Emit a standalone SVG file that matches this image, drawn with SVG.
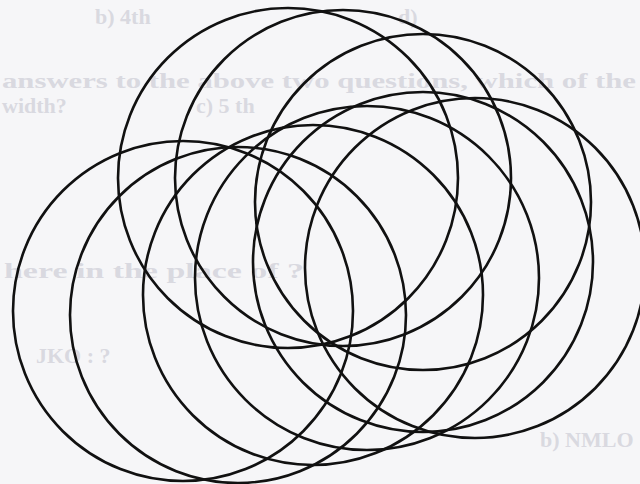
<svg xmlns="http://www.w3.org/2000/svg" width="640" height="484" viewBox="0 0 640 484">
<style>
.bg{fill:#f6f6f8}
.ghost{fill:#d9d9e0;font-family:"Liberation Serif",serif;font-weight:bold;font-size:22px}
.c{fill:none;stroke:#111;stroke-width:2.6}
</style>
<rect class="bg" x="0" y="0" width="640" height="484"/>
<g id="ghost-text">
<text class="ghost" x="95" y="24">b) 4th</text>
<text class="ghost" x="398" y="24">d)</text>
<text class="ghost" x="2" y="88" textLength="634" lengthAdjust="spacingAndGlyphs">answers to the above two questions, which of the</text>
<text class="ghost" x="2" y="113">width?</text>
<text class="ghost" x="196" y="113">c) 5 th</text>
<text class="ghost" x="4" y="278" textLength="300" lengthAdjust="spacingAndGlyphs">here in the place of ?</text>
<text class="ghost" x="36" y="363">JKO : ?</text>
<text class="ghost" x="540" y="447">b) NMLO</text>
</g>
<g id="circles">
<circle id="c-tl" class="c" cx="288" cy="178" r="170"/>
<circle id="c-t2" class="c" cx="343" cy="178" r="168"/>
<circle id="c-c3" class="c" cx="423" cy="202" r="168"/>
<circle id="c-r2" class="c" cx="423" cy="262" r="170"/>
<circle id="c-r1" class="c" cx="475" cy="268" r="170"/>
<circle id="c-m2" class="c" cx="367" cy="278" r="172"/>
<circle id="c-m1" class="c" cx="313" cy="295" r="170"/>
<circle id="c-l2" class="c" cx="238" cy="315" r="168"/>
<circle id="c-l1" class="c" cx="183" cy="311" r="170"/>
</g>
</svg>
